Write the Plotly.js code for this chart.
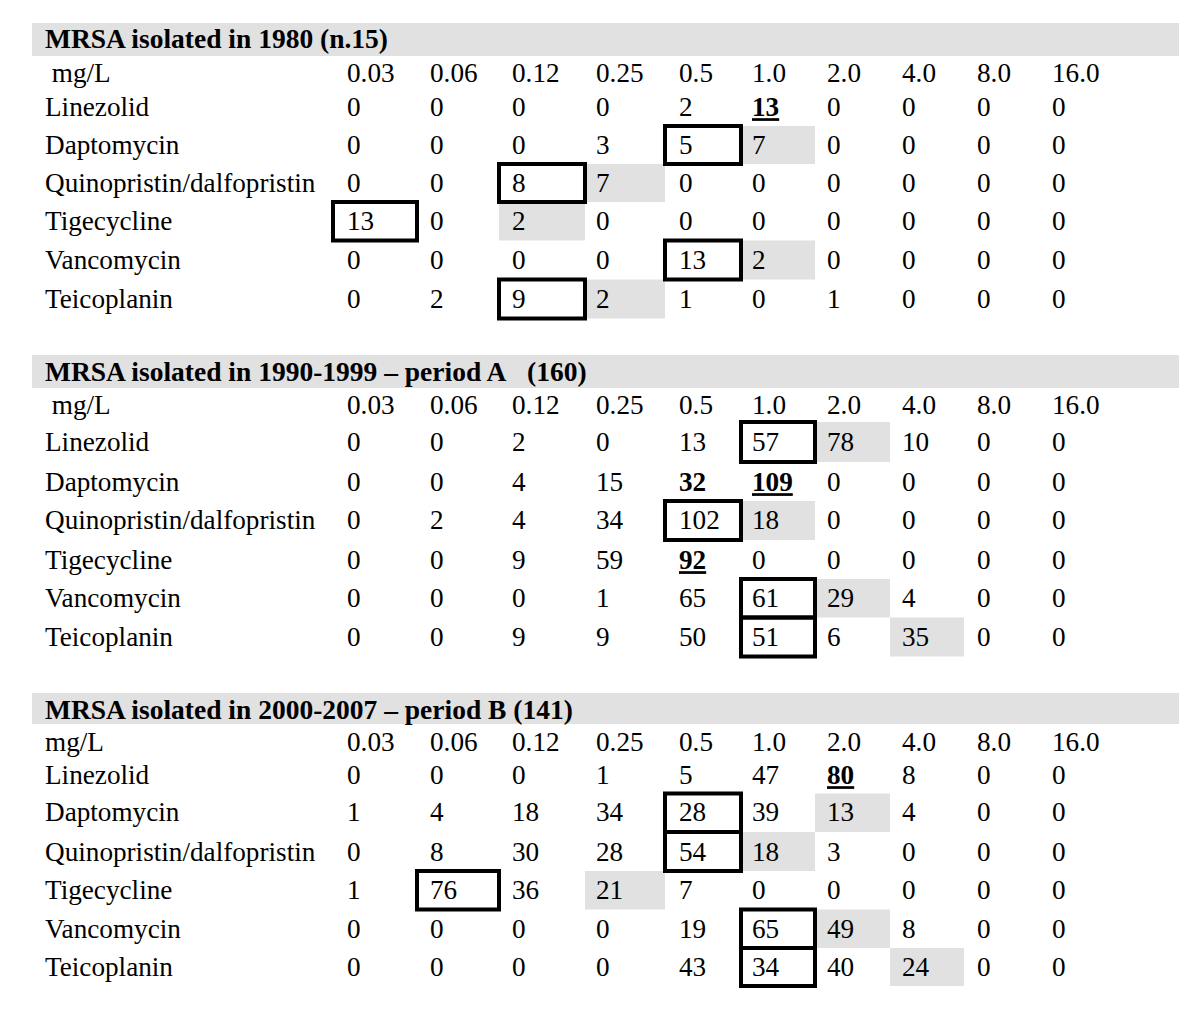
<!DOCTYPE html>
<html>
<head>
<meta charset="utf-8">
<script src="https://cdn.plot.ly/plotly-3.0.1.min.js"></script>
<style>html,body{margin:0;padding:0;background:#fff;}</style>
</head>
<body>
<div id="chart" style="width:1200px;height:1014px;"></div>
<script>
// ---------------- DATA ----------------
const concentrations = ['0.03','0.06','0.12','0.25','0.5','1.0','2.0','4.0','8.0','16.0'];
const drugs = ['Linezolid','Daptomycin','Quinopristin/dalfopristin','Tigecycline','Vancomycin','Teicoplanin'];
const sectionTitles = [
  'MRSA isolated in 1980 (n.15)',
  'MRSA isolated in 1990-1999 \u2013 period A\u00a0\u00a0\u00a0(160)',
  'MRSA isolated in 2000-2007 \u2013 period B (141)'
];
const unitLabels = ['\u00a0mg/L', '\u00a0mg/L', 'mg/L'];

const counts1980 = [
  [0,0,0,0,2,13,0,0,0,0],
  [0,0,0,3,5,7,0,0,0,0],
  [0,0,8,7,0,0,0,0,0,0],
  [13,0,2,0,0,0,0,0,0,0],
  [0,0,0,0,13,2,0,0,0,0],
  [0,2,9,2,1,0,1,0,0,0]
];
const countsPeriodA = [
  [0,0,2,0,13,57,78,10,0,0],
  [0,0,4,15,32,109,0,0,0,0],
  [0,2,4,34,102,18,0,0,0,0],
  [0,0,9,59,92,0,0,0,0,0],
  [0,0,0,1,65,61,29,4,0,0],
  [0,0,9,9,50,51,6,35,0,0]
];
const countsPeriodB = [
  [0,0,0,1,5,47,80,8,0,0],
  [1,4,18,34,28,39,13,4,0,0],
  [0,8,30,28,54,18,3,0,0,0],
  [1,76,36,21,7,0,0,0,0,0],
  [0,0,0,0,19,65,49,8,0,0],
  [0,0,0,0,43,34,40,24,0,0]
];

// cell markers: [drug index, concentration index]
const boxed1980 = [[1,4],[2,2],[3,0],[4,4],[5,2]];
const shaded1980 = [[1,5],[2,3],[3,2],[4,5],[5,3]];
const boldUnderlined1980 = [[0,5]];
const bold1980 = [];

const boxedA = [[0,5],[2,4],[4,5],[5,5]];
const shadedA = [[0,6],[2,5],[4,6],[5,7]];
const boldUnderlinedA = [[1,5],[3,4]];
const boldA = [[1,4]];

const boxedB = [[1,4],[2,4],[3,1],[4,5],[5,5]];
const shadedB = [[1,6],[2,5],[3,3],[4,6],[5,7]];
const boldUnderlinedB = [[0,6]];
const boldB = [];

// ---------------- LAYOUT GEOMETRY / STYLE ----------------
const GRAY = '#e1e1e1';
const FONT = {family: '"Liberation Serif", "Times New Roman", serif', size: 27.2, color: '#000'};
const TITLE_FONT = {family: '"Liberation Serif", "Times New Roman", serif', size: 27.5, color: '#000'};
const GEO = {
  labelX: 45,
  colTextX: [347,430,512,596,679,752,827,902,977,1052],
  colEdges: [333,417,499,585,665,741,815,890,964,1039,1114],
  barX0: 32, barX1: 1179,
  sections: [
    {barTop: 23,  barBottom: 56,  titleY: 39,  unitY: 73,  rows: [107,145,183,221,260,299]},
    {barTop: 355, barBottom: 388, titleY: 372, unitY: 405, rows: [442,482,520,560,598,637]},
    {barTop: 693, barBottom: 724, titleY: 710, unitY: 742, rows: [775,812,852,890,929,967]}
  ]
};

const sectionCounts = [counts1980, countsPeriodA, countsPeriodB];
const sectionBoxed = [boxed1980, boxedA, boxedB];
const sectionShaded = [shaded1980, shadedA, shadedB];
const sectionBoldU = [boldUnderlined1980, boldUnderlinedA, boldUnderlinedB];
const sectionBold = [bold1980, boldA, boldB];

const yText = y => y + 0.088 * FONT.size;
const has = (list, r, c) => list.some(p => p[0] === r && p[1] === c);

function rowBounds(sec, i) {
  const r = sec.rows;
  const top = i === 0 ? r[0] - (r[1] - r[0]) / 2 : (r[i - 1] + r[i]) / 2;
  const bottom = i === r.length - 1 ? r[i] + (r[i] - r[i - 1]) / 2 : (r[i] + r[i + 1]) / 2;
  return [top, bottom];
}

function textTrace(xs, ys, texts, font) {
  return {
    type: 'scatter', mode: 'text', x: xs, y: ys, text: texts,
    textposition: 'middle right', textfont: font || FONT,
    hoverinfo: 'skip', cliponaxis: false, showlegend: false
  };
}

const traces = [];
const shapes = [];

GEO.sections.forEach((sec, s) => {
  shapes.push({type: 'rect', xref: 'x', yref: 'y', x0: GEO.barX0, x1: GEO.barX1,
    y0: sec.barTop, y1: sec.barBottom, fillcolor: GRAY, line: {width: 0}, layer: 'below'});

  sectionShaded[s].forEach(([r, c]) => {
    const [t, b] = rowBounds(sec, r);
    shapes.push({type: 'rect', xref: 'x', yref: 'y', x0: GEO.colEdges[c], x1: GEO.colEdges[c + 1],
      y0: t, y1: b, fillcolor: GRAY, line: {width: 0}, layer: 'below'});
  });
  sectionBoxed[s].forEach(([r, c]) => {
    const [t, b] = rowBounds(sec, r);
    shapes.push({type: 'rect', xref: 'x', yref: 'y', x0: GEO.colEdges[c], x1: GEO.colEdges[c + 1],
      y0: t, y1: b, fillcolor: 'rgba(0,0,0,0)', line: {color: '#000', width: 4}, layer: 'below'});
  });

  // title
  traces.push(textTrace([GEO.labelX], [yText(sec.titleY)], ['<b>' + sectionTitles[s] + '</b>'], TITLE_FONT));
  // unit row + concentrations
  traces.push(textTrace([GEO.labelX].concat(GEO.colTextX),
    concentrations.map(() => yText(sec.unitY)).concat([yText(sec.unitY)]),
    [unitLabels[s]].concat(concentrations)));
  // drug labels
  traces.push(textTrace(drugs.map(() => GEO.labelX), sec.rows.map(yText), drugs));
  // values
  const xs = [], ys = [], ts = [];
  sectionCounts[s].forEach((row, r) => row.forEach((v, c) => {
    xs.push(GEO.colTextX[c]);
    ys.push(yText(sec.rows[r]));
    let t = String(v);
    if (has(sectionBoldU[s], r, c)) t = '<b><u>' + t + '</u></b>';
    else if (has(sectionBold[s], r, c)) t = '<b>' + t + '</b>';
    ts.push(t);
  }));
  traces.push(textTrace(xs, ys, ts));
});

const layout = {
  width: 1200, height: 1014,
  margin: {l: 0, r: 0, t: 0, b: 0, pad: 0},
  paper_bgcolor: '#fff', plot_bgcolor: '#fff',
  xaxis: {range: [0, 1200], visible: false, fixedrange: true},
  yaxis: {range: [1014, 0], visible: false, fixedrange: true},
  showlegend: false,
  shapes: shapes
};

Plotly.newPlot('chart', traces, layout, {displayModeBar: false, staticPlot: true});
</script>
</body>
</html>
